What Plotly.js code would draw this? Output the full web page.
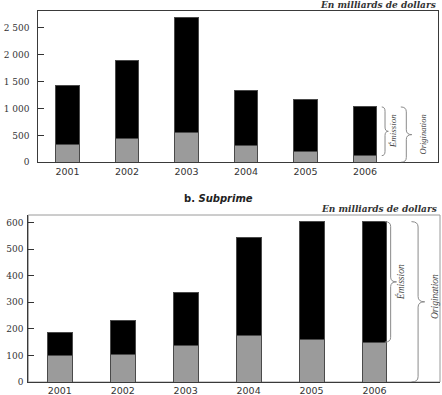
<!DOCTYPE html>
<html>
<head>
<meta charset="utf-8">
<script src="https://cdn.plot.ly/plotly-3.0.1.min.js"></script>
<style>
html,body{margin:0;padding:0;background:#fff;}
#chart{width:442px;height:395px;}
</style>
</head>
<body>
<div id="chart"></div>
<script>
// ---- data ----
var years = ['2001','2002','2003','2004','2005','2006'];
var yearIdx = [0,1,2,3,4,5];
// a. (total mortgage) - billions of dollars
var topGray = [335, 447, 552, 310, 205, 124];
var topEmission = [1100, 1446, 2141, 1024, 961, 906];
var topTickVals = [0, 500, 1000, 1500, 2000, 2500];
var topTickText = ['0', '500', '1 000', '1 500', '2 000', '2 500'];
// b. Subprime
var subGray = [100, 105, 138, 176, 160, 150];
var subEmission = [88, 127, 197, 367, 445, 453];
var subTickVals = [0, 100, 200, 300, 400, 500, 600];
var subTickText = ['0', '100', '200', '300', '400', '500', '600'];

var W = 442, H = 395;
var barW = 0.395;
var grayCol = '#9b9b9b', blackCol = '#000000', lineCol = '#3a3a3a';

function bar(x, y, color, xa, ya) {
  return {type:'bar', x:x, y:y, width:barW, xaxis:xa, yaxis:ya,
    marker:{color:color, line:{color:'#4a4a4a', width:1}}, hoverinfo:'skip', showlegend:false};
}

var traces = [
  bar(yearIdx, topGray, grayCol, 'x', 'y'),
  bar(yearIdx, topEmission, blackCol, 'x', 'y'),
  bar(yearIdx, subGray, grayCol, 'x2', 'y2'),
  bar(yearIdx, subEmission, blackCol, 'x2', 'y2')
];

var last = years.length - 1;
var topTotal = topGray[last] + topEmission[last];
var subTotal = subGray[last] + subEmission[last];

function brace(xref, yref, x0, w, y0, y1, r) {
  var xm = x0 + w/2, xt = x0 + w, ym = (y0 + y1)/2;
  var p = 'M ' + x0 + ',' + y1 +
    ' Q ' + xm + ',' + y1 + ' ' + xm + ',' + (y1 - r) +
    ' L ' + xm + ',' + (ym + r) +
    ' Q ' + xm + ',' + ym + ' ' + xt + ',' + ym +
    ' Q ' + xm + ',' + ym + ' ' + xm + ',' + (ym - r) +
    ' L ' + xm + ',' + (y0 + r) +
    ' Q ' + xm + ',' + y0 + ' ' + x0 + ',' + y0;
  return {type:'path', xref:xref, yref:yref, path:p, line:{color:'#8a8a8a', width:1}};
}

var shapes = [
  // light frame of the lower panel
  {type:'rect', xref:'x2 domain', yref:'y2 domain', x0:0, x1:1, y0:0, y1:1,
   line:{color:'#9a9a9a', width:1}, layer:'below'},
  brace('x', 'y', 5.28, 0.11, topGray[last], topTotal, 80),
  brace('x', 'y', 5.60, 0.185, 0, topTotal, 90),
  brace('x2', 'y2', 5.163, 0.186, subGray[last], subTotal, 18),
  brace('x2', 'y2', 5.587, 0.21, 0, subTotal, 20)
];

var serifIt = {family:'Liberation Serif, serif', style:'italic', color:'#444'};
function lab(text, xref, yref, x, y, size) {
  return {text:text, xref:xref, yref:yref, x:x, y:y, showarrow:false, textangle:-90,
    font:Object.assign({size:size}, serifIt), xanchor:'center', yanchor:'middle'};
}

var annotations = [
  {text:'<b><i>En milliards de dollars</i></b>', xref:'paper', yref:'paper', x:437.5/W, y:1 - 5/H,
   xanchor:'right', yanchor:'middle', showarrow:false,
   font:{family:'DejaVu Serif, serif', size:9, color:'#333'}},
  {text:'<b>b. <i>Subprime</i></b>', xref:'paper', yref:'paper', x:218/W, y:1 - 198/H,
   xanchor:'center', yanchor:'middle', showarrow:false,
   font:{family:'DejaVu Sans, sans-serif', size:10, color:'#222'}},
  {text:'<b><i>En milliards de dollars</i></b>', xref:'paper', yref:'paper', x:439/W, y:1 - 208.5/H,
   xanchor:'right', yanchor:'middle', showarrow:false,
   font:{family:'DejaVu Serif, serif', size:9, color:'#333'}},
  lab('Émission', 'x', 'y', 5.47, (topGray[last] + topTotal)/2, 9),
  lab('Origination', 'x', 'y', 5.97, topTotal/2, 8.5),
  lab('Émission', 'x2', 'y2', 5.425, (subGray[last] + subTotal)/2, 9.5),
  lab('Origination', 'paper', 'y2', 434.5/W, subTotal/2 + 20, 9.5)
];

var tickFontY = {family:'DejaVu Serif, serif', size:9, color:'#333'};
var tickFontX = {family:'DejaVu Sans, sans-serif', size:9.5, color:'#333'};

var axCommon = {showline:true, linecolor:lineCol, linewidth:1, showgrid:false, zeroline:false, fixedrange:true};

var layout = {
  width:W, height:H,
  margin:{l:0, r:0, t:0, b:0},
  paper_bgcolor:'#fff', plot_bgcolor:'#fff',
  barmode:'stack', showlegend:false,
  xaxis:Object.assign({}, axCommon, {mirror:true, domain:[38.3/W, 437.7/W], range:[-0.49, 6.22], anchor:'y',
    tickvals:yearIdx, ticktext:years, ticks:'', tickfont:tickFontX}),
  yaxis:Object.assign({}, axCommon, {mirror:true, domain:[1 - 162.3/H, 1 - 11/H], range:[0, 2816], anchor:'x',
    tickvals:topTickVals, ticktext:topTickText, ticks:'inside', ticklen:6, tickcolor:'#333',
    ticklabelstandoff:6, tickfont:tickFontY}),
  xaxis2:Object.assign({}, axCommon, {domain:[28.3/W, 440/W], range:[-0.5, 6.04], anchor:'y2',
    tickvals:yearIdx, ticktext:years, ticks:'', tickfont:tickFontX}),
  yaxis2:Object.assign({}, axCommon, {domain:[1 - 382/H, 1 - 215/H], range:[0, 628], anchor:'x2',
    tickvals:subTickVals, ticktext:subTickText, ticks:'inside', ticklen:6, tickcolor:'#333',
    ticklabelstandoff:2, tickfont:tickFontY}),
  shapes:shapes,
  annotations:annotations
};

Plotly.newPlot('chart', traces, layout, {staticPlot:true, displayModeBar:false});
</script>
</body>
</html>
